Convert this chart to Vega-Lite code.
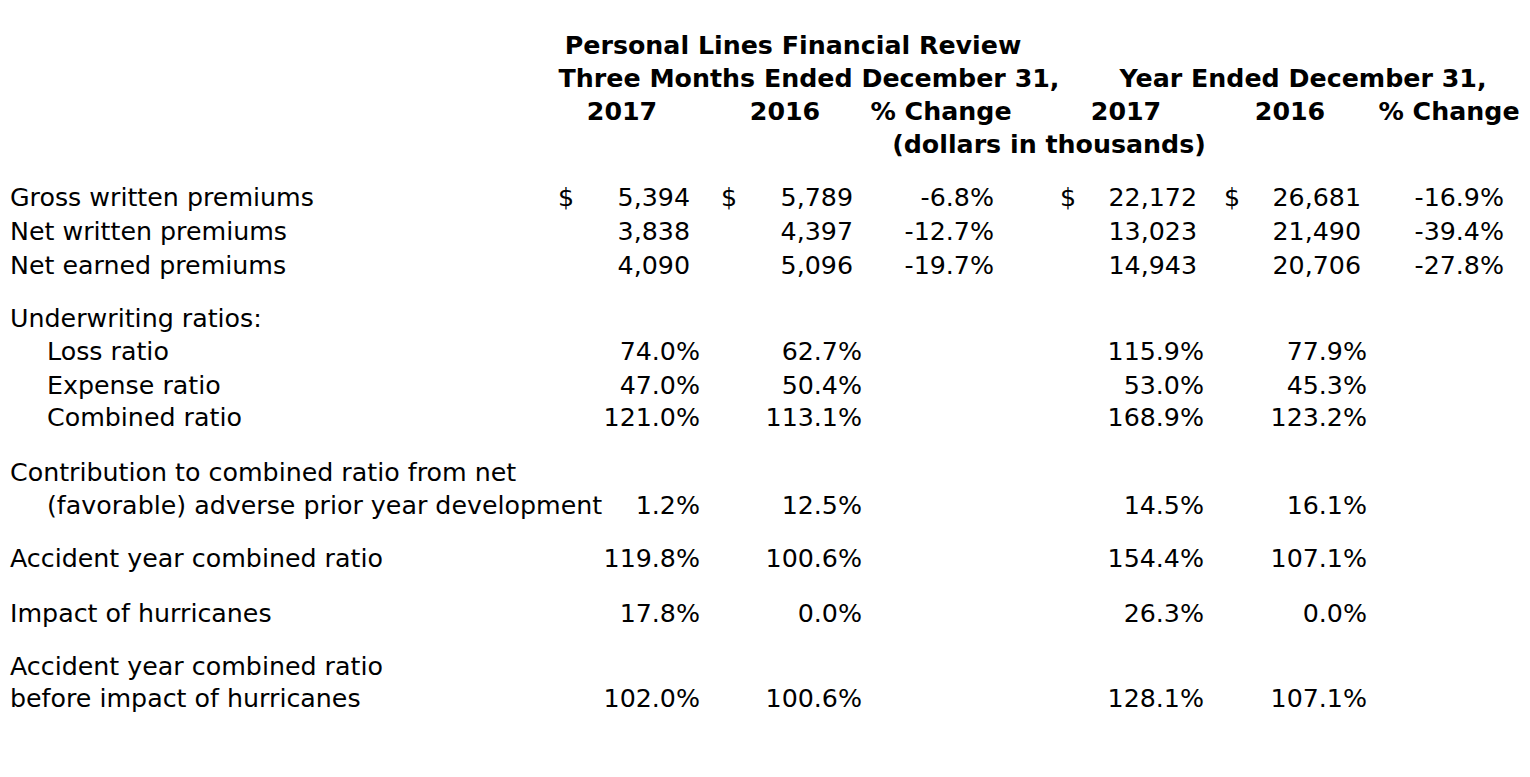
{
  "$schema": "https://vega.github.io/schema/vega-lite/v6.json",
  "width": 1530,
  "height": 777,
  "padding": 0,
  "autosize": {"type": "none"},
  "background": "white",
  "config": {"view": {"stroke": null}, "text": {"font": "DejaVu Sans", "fontSize": 25.3, "color": "black", "baseline": "middle"}},
  "data": {"values": [
    {"r": 0, "c": 8, "t": "Personal Lines Financial Review", "kind": "head"},
    {"r": 1, "c": 9, "t": "Three Months Ended December 31,", "kind": "head"},
    {"r": 1, "c": 21, "t": "Year Ended December 31,", "kind": "head"},
    {"r": 2, "c": 3, "t": "2017", "kind": "head"},
    {"r": 2, "c": 7, "t": "2016", "kind": "head"},
    {"r": 2, "c": 12, "t": "% Change", "kind": "head"},
    {"r": 2, "c": 16, "t": "2017", "kind": "head"},
    {"r": 2, "c": 20, "t": "2016", "kind": "head"},
    {"r": 2, "c": 24, "t": "% Change", "kind": "head"},
    {"r": 3, "c": 14, "t": "(dollars in thousands)", "kind": "head"},

    {"r": 4, "c": 0, "t": "Gross written premiums", "kind": "label"},
    {"r": 5, "c": 0, "t": "Net written premiums", "kind": "label"},
    {"r": 6, "c": 0, "t": "Net earned premiums", "kind": "label"},
    {"r": 7, "c": 0, "t": "Underwriting ratios:", "kind": "label"},
    {"r": 8, "c": 1, "t": "Loss ratio", "kind": "label"},
    {"r": 9, "c": 1, "t": "Expense ratio", "kind": "label"},
    {"r": 10, "c": 1, "t": "Combined ratio", "kind": "label"},
    {"r": 11, "c": 0, "t": "Contribution to combined ratio from net", "kind": "label"},
    {"r": 12, "c": 1, "t": "(favorable) adverse prior year development", "kind": "label"},
    {"r": 13, "c": 0, "t": "Accident year combined ratio", "kind": "label"},
    {"r": 14, "c": 0, "t": "Impact of hurricanes", "kind": "label"},
    {"r": 15, "c": 0, "t": "Accident year combined ratio", "kind": "label"},
    {"r": 16, "c": 0, "t": "before impact of hurricanes", "kind": "label"},

    {"r": 4, "c": 2, "t": "$", "kind": "label"},
    {"r": 4, "c": 6, "t": "$", "kind": "label"},
    {"r": 4, "c": 15, "t": "$", "kind": "label"},
    {"r": 4, "c": 19, "t": "$", "kind": "label"},

    {"r": 4, "c": 4, "t": "5,394", "kind": "value"},
    {"r": 4, "c": 10, "t": "5,789", "kind": "value"},
    {"r": 4, "c": 13, "t": "-6.8%", "kind": "value"},
    {"r": 4, "c": 17, "t": "22,172", "kind": "value"},
    {"r": 4, "c": 22, "t": "26,681", "kind": "value"},
    {"r": 4, "c": 25, "t": "-16.9%", "kind": "value"},
    {"r": 5, "c": 4, "t": "3,838", "kind": "value"},
    {"r": 5, "c": 10, "t": "4,397", "kind": "value"},
    {"r": 5, "c": 13, "t": "-12.7%", "kind": "value"},
    {"r": 5, "c": 17, "t": "13,023", "kind": "value"},
    {"r": 5, "c": 22, "t": "21,490", "kind": "value"},
    {"r": 5, "c": 25, "t": "-39.4%", "kind": "value"},
    {"r": 6, "c": 4, "t": "4,090", "kind": "value"},
    {"r": 6, "c": 10, "t": "5,096", "kind": "value"},
    {"r": 6, "c": 13, "t": "-19.7%", "kind": "value"},
    {"r": 6, "c": 17, "t": "14,943", "kind": "value"},
    {"r": 6, "c": 22, "t": "20,706", "kind": "value"},
    {"r": 6, "c": 25, "t": "-27.8%", "kind": "value"},

    {"r": 8, "c": 5, "t": "74.0%", "kind": "value"},
    {"r": 8, "c": 11, "t": "62.7%", "kind": "value"},
    {"r": 8, "c": 18, "t": "115.9%", "kind": "value"},
    {"r": 8, "c": 23, "t": "77.9%", "kind": "value"},
    {"r": 9, "c": 5, "t": "47.0%", "kind": "value"},
    {"r": 9, "c": 11, "t": "50.4%", "kind": "value"},
    {"r": 9, "c": 18, "t": "53.0%", "kind": "value"},
    {"r": 9, "c": 23, "t": "45.3%", "kind": "value"},
    {"r": 10, "c": 5, "t": "121.0%", "kind": "value"},
    {"r": 10, "c": 11, "t": "113.1%", "kind": "value"},
    {"r": 10, "c": 18, "t": "168.9%", "kind": "value"},
    {"r": 10, "c": 23, "t": "123.2%", "kind": "value"},
    {"r": 12, "c": 5, "t": "1.2%", "kind": "value"},
    {"r": 12, "c": 11, "t": "12.5%", "kind": "value"},
    {"r": 12, "c": 18, "t": "14.5%", "kind": "value"},
    {"r": 12, "c": 23, "t": "16.1%", "kind": "value"},
    {"r": 13, "c": 5, "t": "119.8%", "kind": "value"},
    {"r": 13, "c": 11, "t": "100.6%", "kind": "value"},
    {"r": 13, "c": 18, "t": "154.4%", "kind": "value"},
    {"r": 13, "c": 23, "t": "107.1%", "kind": "value"},
    {"r": 14, "c": 5, "t": "17.8%", "kind": "value"},
    {"r": 14, "c": 11, "t": "0.0%", "kind": "value"},
    {"r": 14, "c": 18, "t": "26.3%", "kind": "value"},
    {"r": 14, "c": 23, "t": "0.0%", "kind": "value"},
    {"r": 16, "c": 5, "t": "102.0%", "kind": "value"},
    {"r": 16, "c": 11, "t": "100.6%", "kind": "value"},
    {"r": 16, "c": 18, "t": "128.1%", "kind": "value"},
    {"r": 16, "c": 23, "t": "107.1%", "kind": "value"}
  ]},
  "encoding": {
    "x": {"field": "c", "type": "quantitative", "axis": null,
      "scale": {"nice": false, "zero": false,
        "domain": [0,1,2,3,4,5,6,7,8,9,10,11,12,13,14,15,16,17,18,19,20,21,22,23,24,25],
        "range": [10,47,558,622,690,700,721,785,793,809,853,862,941,994,1049,1060,1126,1197,1204,1224,1290,1303,1361,1367,1449,1504]}},
    "y": {"field": "r", "type": "quantitative", "axis": null,
      "scale": {"nice": false, "zero": false,
        "domain": [0,1,2,3,4,5,6,7,8,9,10,11,12,13,14,15,16],
        "range": [46,79,112,145,198,232,266,319,352,386,418,473,506,559,614,667,699]}},
    "text": {"field": "t", "type": "nominal"}
  },
  "layer": [
    {"transform": [{"filter": "datum.kind == 'head'"}], "mark": {"type": "text", "align": "center", "fontWeight": "bold"}},
    {"transform": [{"filter": "datum.kind == 'label'"}], "mark": {"type": "text", "align": "left"}},
    {"transform": [{"filter": "datum.kind == 'value'"}], "mark": {"type": "text", "align": "right"}}
  ]
}
